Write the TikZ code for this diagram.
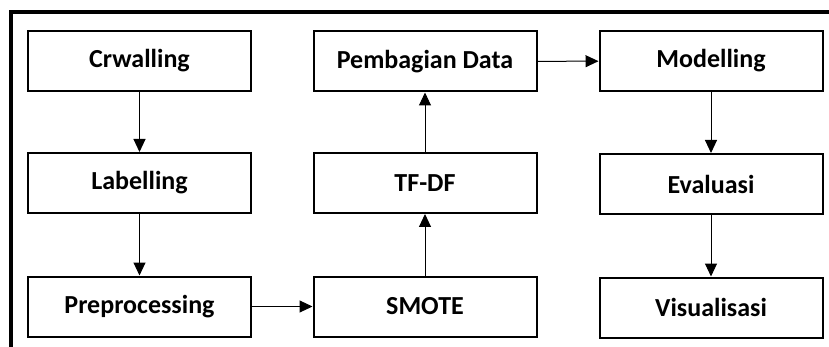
\documentclass[tikz,border=0pt]{standalone}
\usepackage{fontspec}
\setmainfont{Carlito}
\usetikzlibrary{arrows.meta}
\begin{document}
\begin{tikzpicture}[x=1pt,y=-1pt,
  stepbox/.style={draw=black,line width=2pt,minimum width=223pt,minimum height=60pt,
    inner sep=0pt,fill=white,font=\fontsize{26}{30}\selectfont\bfseries},
  flow/.style={line width=1pt,-{Triangle[length=13pt,width=12pt]}}]
\useasboundingbox (0,0) rectangle (829,347);
% outer frame (left and top edges)
\draw[line width=4pt] (10.5,347) -- (10.5,12) -- (829,12);
% column 1
\node[stepbox] (crw) at (139.5,61) {Crwalling};
\node[stepbox] (lab) at (139.5,183) {Labelling};
\node[stepbox] (pre) at (139.5,306.5) {Preprocessing};
% column 2
\node[stepbox] (pem) at (425,61.5) {Pembagian Data};
\node[stepbox] (tf) at (425,183) {TF-DF};
\node[stepbox] (smo) at (425,306.5) {SMOTE};
% column 3
\node[stepbox] (mod) at (711,61) {Modelling};
\node[stepbox] (eva) at (711,184) {Evaluasi};
\node[stepbox] (vis) at (711,307.5) {Visualisasi};
% connectors
\draw[flow] (crw) -- (lab);
\draw[flow] (lab) -- (pre);
\draw[flow] (pre) -- (smo);
\draw[flow] (smo) -- (tf);
\draw[flow] (tf) -- (pem);
\draw[flow] (pem) -- (mod);
\draw[flow] (mod) -- (eva);
\draw[flow] (eva) -- (vis);
\end{tikzpicture}
\end{document}
